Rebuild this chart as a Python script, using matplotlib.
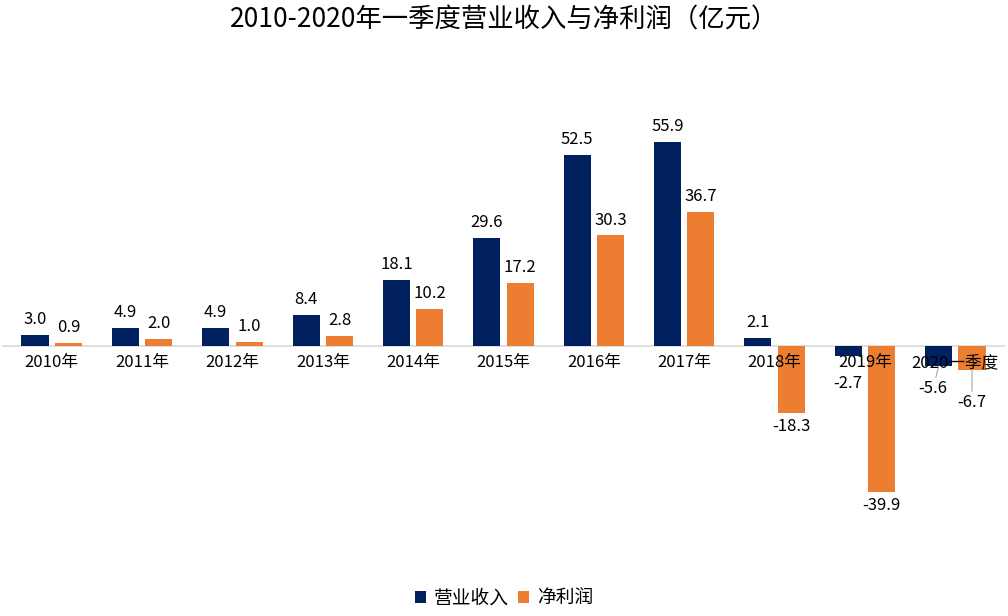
import numpy as np
import matplotlib
matplotlib.use("Agg")
import matplotlib.pyplot as plt

plt.rcParams['font.family'] = ['Noto Sans CJK SC', 'DejaVu Sans']

# 数据
years = ["2010年", "2011年", "2012年", "2013年", "2014年", "2015年",
         "2016年", "2017年", "2018年", "2019年", "2020一季度"]
revenue = [3.0, 4.9, 4.9, 8.4, 18.1, 29.6, 52.5, 55.9, 2.1, -2.7, -5.6]
profit = [0.9, 2.0, 1.0, 2.8, 10.2, 17.2, 30.3, 36.7, -18.3, -39.9, -6.7]

c_rev = "#002060"
c_pro = "#ED7D31"

fig = plt.figure(figsize=(10.08, 6.16), dpi=100)
ax = fig.add_axes([0.002, 0.083, 0.995, 0.829])

x = np.arange(len(years))
w = 0.3
off = 0.185
b1 = ax.bar(x - off, revenue, w, color=c_rev, label="营业收入")
b2 = ax.bar(x + off, profit, w, color=c_pro, label="净利润")

ax.axhline(0, color="#D9D9D9", lw=1.2, zorder=0)
ax.set_xlim(-0.55, len(years) - 0.45)
ax.set_ylim(-60, 80)
ax.axis("off")

# 数据标签
last = len(years) - 1
for bars, vals in ((b1, revenue), (b2, profit)):
    for i, (b, v) in enumerate(zip(bars, vals)):
        cx = b.get_x() + b.get_width() / 2
        if i == last:
            continue
        if v >= 0:
            ax.annotate(f"{v:.1f}", (cx, v), xytext=(0, 5), textcoords="offset points",
                        ha="center", va="bottom", fontsize=12)
        else:
            dy = -14 if v > -5 else -4
            ax.annotate(f"{v:.1f}", (cx, v), xytext=(0, dy), textcoords="offset points",
                        ha="center", va="top", fontsize=12)

# 2020一季度 标签带引导线
for bars, vals, dx, dy in ((b1, revenue, -4, -10), (b2, profit, 0, -17)):
    b = bars[last]
    cx = b.get_x() + b.get_width() / 2
    ax.annotate(f"{vals[last]:.1f}", (cx, vals[last]), xytext=(dx, dy),
                textcoords="offset points", ha="center", va="top", fontsize=12,
                arrowprops=dict(arrowstyle="-", color="#A6A6A6", lw=0.8,
                                shrinkA=0, shrinkB=0))

# 分类标签
for i, lab in enumerate(years):
    ax.annotate(lab, (i, 0), xytext=(0, -6), textcoords="offset points",
                ha="center", va="top", fontsize=12)

fig.suptitle("2010-2020年一季度营业收入与净利润（亿元）", fontsize=19, y=0.99)

fig.legend(handles=[b1, b2], loc="lower center", ncol=2, frameon=False,
           fontsize=13.5, handlelength=0.6, handleheight=0.6, handletextpad=0.4,
           columnspacing=0.5, bbox_to_anchor=(0.5, -0.015))

fig.savefig("out.png", dpi=100)
